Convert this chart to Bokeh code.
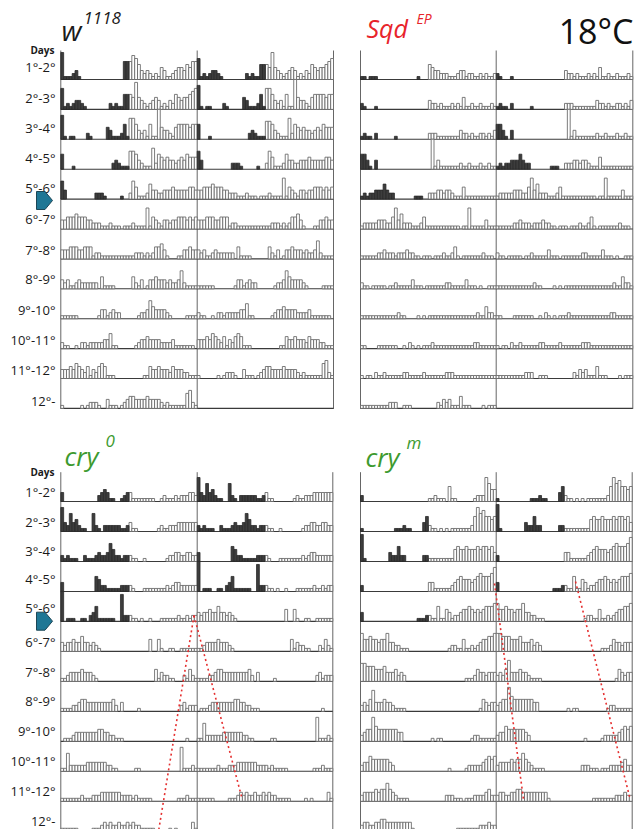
from bokeh.plotting import figure
from bokeh.models import Range1d
from bokeh.core.properties import value
from bokeh.embed import file_html
from bokeh.resources import INLINE

# ---------------- data (activity per 30-min bin, 48 bins/day; 0-9, a=10) -------------
ROW_LABELS = ["1°-2°", "2°-3°", "3°-4°", "4°-5°", "5°-6°", "6°-7°",
              "7°-8°", "8°-9°", "9°-10°", "10°-11°", "11°-12°", "12°-"]
LD_DAYS = 5          # days under light/dark cycle (dark half filled)

W1118 = [
    "911123100000 000000000066 687532321214 311234435466",
    "712123321000 000002121155 549432123431 213254344567",
    "810110000210 000043111251 7753231511a4 332145555455",
    "500010000000 000000232111 665321117254 343323435444",
    "630000000000 222100000100 264111253322 333433333443",
    "334445444332 221112111011 121111714321 332334443434",
    "333444334441 221111111111 112221212445 310001133433",
    "323112322222 204111100000 042130133433 323223621111",
    "111111000000 013312322000 000122364333 321000001111",
    "211001022122 222335110000 001233433332 222311111110",
    "333435432413 245411100000 000001143343 332433322111",
    "100000010122 210031110123 443333433332 121111115621",
]
SQD = [
    "110111000000 000000001000 543322211123 312211212112",
    "210001000000 000000000000 322121112121 411211211121",
    "121102000000 100000000000 222111111113 221211221213",
    "553103000000 000000000000 0a1311111112 112111211211",
    "121223335322 000000011100 222332332111 411111111111",
    "122222333224 735222111241 111111111110 117111113111",
    "111111223222 122232211011 101112112410 111111121110",
    "211011111011 211111311101 111111221111 131110100111",
    "111111111111 121100001010 111111111111 111112114221",
    "110000111111 100102101011 121111111111 111122111111",
    "101102112111 111221111121 111111222111 111111111111",
    "111111111122 200111000000 000213231114 111000010111",
]
CRY0 = [
    "300000000000 023431100123 311111111001 211121222332",
    "832634211006 210222222112 311000000012 112223333333",
    "212111002111 232236422122 211001000000 012233223322",
    "300000000000 542211111222 210001111111 121233222222",
    "a01110011023 511111100922 211010010001 111112112122",
    "323343353323 210000000000 000000040041 001100111111",
    "112333343332 100000000000 000000000413 221100021421",
    "111122344333 333333420300 000100000000 000000231222",
    "011123333333 344332211100 000000000000 000000001000",
    "116222222333 333322110000 001100000000 000000811121",
    "111111121112 223333333222 212111110000 000001112111",
    "111111000001 112323223223 232211111000 001010000031",
]
CRYM = [
    "200000000000 000000000000 112111051100 000012228644",
    "100000000000 111211000035 211010101111 111258675545",
    "910000000032 252200000022 111111111454 454445455453",
    "200000000000 000000000000 331111112345 444345655568",
    "300000000000 000000001112 211511431223 445434345556",
    "644544344633 221110000000 000000012211 411212344556",
    "665554445333 423200000000 000000000000 011124332333",
    "232473334332 111100000000 000000000000 000000143233",
    "234485444444 433000000000 010110000000 000122111111",
    "233544444432 000000000000 000000010000 012222234545",
    "233334344643 211110000000 000000222111 011122223422",
    "233223344333 333333100000 000000000011 111111222322",
]


def parse(s):
    vals = [int(c, 36) for c in s.replace(" ", "")]
    return (vals + [0] * 48)[:48]


# ---------------- layout (reference pixel space) ----------------
PANELS = [
    dict(days=W1118, x0=60.3, xc=196.7, x1=333.0, base0=79.0, step=29.9, top=50.0),
    dict(days=SQD, x0=360.0, xc=495.7, x1=632.3, base0=79.0, step=29.9, top=50.0),
    dict(days=CRY0, x0=60.3, xc=196.7, x1=332.3, base0=501.0, step=29.98, top=471.7),
    dict(days=CRYM, x0=360.0, xc=495.7, x1=631.7, base0=501.0, step=29.98, top=471.7),
]
UNIT = 3.0  # px per activity unit

p = figure(width=634, height=829, x_range=Range1d(0, 634), y_range=Range1d(829, 0),
           x_axis_type=None, y_axis_type=None, output_backend="svg",
           toolbar_location=None, min_border=0)
p.grid.visible = False
p.outline_line_color = None
p.background_fill_color = "white"
p.border_fill_color = "white"

wl, wr, wt, wb = [], [], [], []
dl, dr, dt, db = [], [], [], []
for pan in PANELS:
    days = [parse(d) for d in pan["days"]]
    bwl = (pan["xc"] - pan["x0"]) / 48
    bwr = (pan["x1"] - pan["xc"]) / 48
    nrows = len(ROW_LABELS)
    for r in range(nrows):
        base = pan["base0"] + r * pan["step"]
        halves = [(r, pan["x0"], bwl)]
        if r + 1 < len(days) and r + 1 < nrows:
            halves.append((r + 1, pan["xc"], bwr))
        for di, xs, bw in halves:
            for b, v in enumerate(days[di]):
                if v <= 0:
                    continue
                L, R, T = xs + b * bw, xs + (b + 1) * bw, base - v * UNIT
                if di < LD_DAYS and b < 24:
                    dl.append(L); dr.append(R); dt.append(T); db.append(base)
                else:
                    wl.append(L); wr.append(R); wt.append(T); wb.append(base)
    # frame lines
    last = pan["base0"] + (nrows - 1) * pan["step"]
    for x in (pan["x0"], pan["xc"], pan["x1"]):
        p.segment(x0=[x], y0=[pan["top"]], x1=[x], y1=[last + 0.5],
                  line_color="#666666", line_width=1)
    ys = [pan["base0"] + r * pan["step"] for r in range(nrows)]
    p.segment(x0=[pan["x0"]] * nrows, y0=ys, x1=[pan["x1"]] * nrows, y1=ys,
              line_color="#3a3a3a", line_width=1.1)

p.quad(left=wl, right=wr, top=wt, bottom=wb, fill_color="white",
       line_color="#666666", line_width=0.85)
p.quad(left=dl, right=dr, top=dt, bottom=db, fill_color="#3d3d3d",
       line_color="#2a2a2a", line_width=0.8)

# ---------------- labels ----------------
FONT = value("Open Sans")
TOP_LABEL_Y = [66.7, 97, 127.3, 157.6, 187.9, 218.7, 249, 278.8, 309.1, 339.4, 369.7, 400]
BOT_LABEL_Y = [491.7, 521, 550, 578.5, 607, 641.7, 671.7, 700.7, 730, 760, 790, 820]
for ylist, dy in ((TOP_LABEL_Y, 49.5), (BOT_LABEL_Y, 471.5)):
    p.text(x=[55] * len(ylist), y=ylist, text=ROW_LABELS, text_font=FONT,
           text_font_size="13px", text_align="right", text_baseline="middle",
           text_color="#1a1a1a")
    p.text(x=[54], y=[dy], text=["Days"], text_font=FONT, text_font_size="10px",
           text_font_style="bold", text_align="right", text_baseline="middle",
           text_color="#1a1a1a")

# arrows at the LD->DD transition
for ytop in (191.0, 611.7):
    p.patch(x=[36, 44.5, 52, 44.5, 36], y=[ytop, ytop, ytop + 9, ytop + 18, ytop + 18],
            fill_color="#1f7795", line_color="#1c4656", line_width=1)


# titles (y given as the text baseline; drawn with "middle" alignment)
def t(x, base, s, size, color, style="italic", align="left"):
    p.text(x=[x], y=[base - 0.357 * size], text=[s], text_font=FONT,
           text_font_size=f"{size}px", text_font_style=style, text_color=color,
           text_align=align, text_baseline="middle")


t(61, 39, "w", 28, "#1a1a1a")
t(83, 24, "1118", 17, "#1a1a1a")
t(366, 36, "Sqd", 25, "#e8242b")
t(416, 23, "EP", 14, "#e8242b")
t(633, 43, "18°C", 34, "#111111", style="normal", align="right")
t(64, 465, "cry", 26, "#3d9a2f")
t(105, 447, "0", 17, "#3d9a2f")
t(365, 466, "cry", 26, "#3d9a2f")
t(406, 448, "m", 17, "#3d9a2f")

# red dotted guide lines
RED = "#e53030"
p.segment(x0=[193.5, 193.5, 494, 575], y0=[615, 615, 583, 581],
          x1=[158, 241, 523, 629.5], y1=[831, 796, 799, 798],
          line_color=RED, line_width=1.6, line_dash="2 3")

open("out.html", "w").write(file_html(p, INLINE))
